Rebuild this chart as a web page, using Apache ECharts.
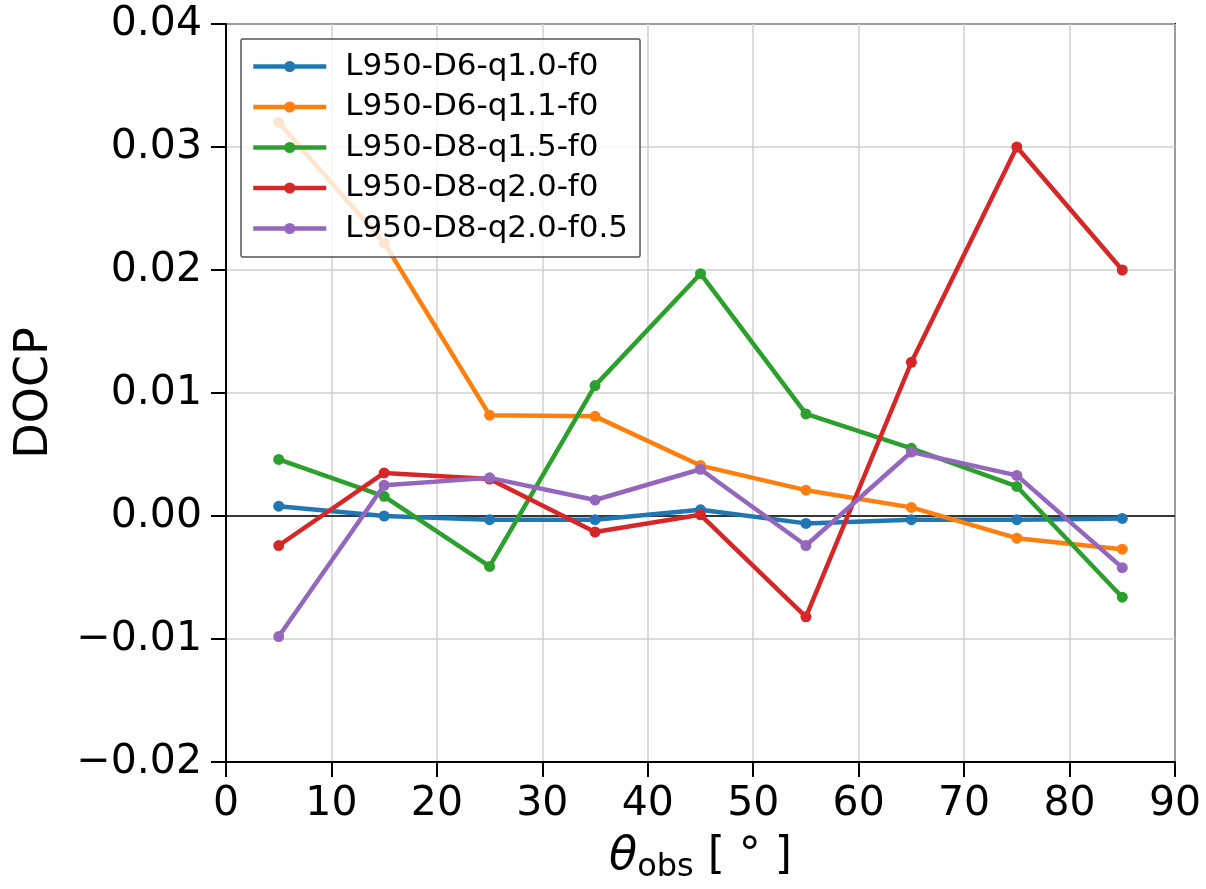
<!DOCTYPE html>
<html>
  <head>
    <meta charset="utf-8">
    <title>DOCP vs theta_obs</title>
    <script type="text/javascript" src="https://cdn.jsdelivr.net/npm/echarts@6/dist/echarts.min.js"></script>
    <style>
      html, body { margin: 0; padding: 0; background: #fff; }
      #chart { width: 1206px; height: 889px; }
    </style>
  </head>
  <body>
    <div id="chart"></div>
    <script type="text/javascript">
      // observer angles (deg)
      var theta = [5, 15, 25, 35, 45, 55, 65, 75, 85];

      var names = ['L950-D6-q1.0-f0', 'L950-D6-q1.1-f0', 'L950-D8-q1.5-f0', 'L950-D8-q2.0-f0', 'L950-D8-q2.0-f0.5'];
      var colors = ['#1f77b4', '#ff7f0e', '#2ca02c', '#d62728', '#9467bd'];

      var d6q10 = [0.0008, 0.0000, -0.0003, -0.0003, 0.0005, -0.0006, -0.0003, -0.0003, -0.0002];
      var d6q11 = [0.0320, 0.0222, 0.0082, 0.0081, 0.0041, 0.0021, 0.0007, -0.0018, -0.0027];
      var d8q15 = [0.0046, 0.0016, -0.0041, 0.0106, 0.0197, 0.0083, 0.0055, 0.0024, -0.0066];
      var d8q20 = [-0.0024, 0.0035, 0.0030, -0.0013, 0.0001, -0.0082, 0.0125, 0.0300, 0.0200];
      var d8q20f05 = [-0.0098, 0.0025, 0.0031, 0.0013, 0.0038, -0.0024, 0.0052, 0.0033, -0.0042];

      var allData = [d6q10, d6q11, d8q15, d8q20, d8q20f05];

      var font = 'DejaVu Sans';

      var series = allData.map(function (vals, i) {
        var s = {
          name: names[i],
          type: 'line',
          data: vals.map(function (v, j) { return [theta[j], v]; }),
          symbol: 'circle',
          symbolSize: 11,
          showAllSymbol: true,
          lineStyle: { width: 4.5, color: colors[i] },
          itemStyle: { color: colors[i] },
          emphasis: { disabled: true },
          z: 3 + i
        };
        if (i === 0) {
          // y = 0 reference line
          s.markLine = {
            silent: true,
            symbol: 'none',
            label: { show: false },
            lineStyle: { color: '#000', width: 1.5, type: 'solid' },
            data: [{ yAxis: 0 }],
            z: 2
          };
        }
        return s;
      });

      var chart = echarts.init(document.getElementById('chart'));
      chart.setOption({
        animation: false,
        backgroundColor: '#fff',
        color: colors,
        grid: {
          left: 226, right: 31, top: 24, bottom: 123,
          show: true, borderColor: '#000', borderWidth: 2,
          backgroundColor: 'transparent'
        },
        legend: {
          orient: 'vertical',
          left: 241, top: 39,
          padding: [12, 12, 13, 10],
          itemWidth: 73, itemHeight: 14,
          itemGap: 9.5,
          backgroundColor: 'rgba(255,255,255,0.8)',
          borderColor: '#555', borderWidth: 1.5, borderRadius: 2,
          lineStyle: { width: 4.5 },
          textStyle: { fontFamily: font, fontSize: 31, lineHeight: 31, color: '#000', padding: [0, 0, 0, 14] },
          data: names,
          z: 10
        },
        xAxis: {
          type: 'value',
          min: 0, max: 90, interval: 10,
          axisLine: { onZero: false, lineStyle: { color: '#000', width: 2 } },
          axisTick: { show: true, length: 15, lineStyle: { color: '#000', width: 2 } },
          axisLabel: { fontFamily: font, fontSize: 41, color: '#000', margin: 22 },
          splitLine: { show: true, lineStyle: { color: '#d0d0d0', width: 1.5 } },
          name: '{t|θ}{s|obs}{n| [ ° ]}',
          nameLocation: 'middle',
          nameGap: 68,
          nameTextStyle: {
            rich: {
              t: { fontFamily: font, fontSize: 46, fontStyle: 'italic', color: '#000' },
              s: { fontFamily: font, fontSize: 32, color: '#000', padding: [22, 0, 0, 0] },
              n: { fontFamily: font, fontSize: 44, color: '#000' }
            }
          }
        },
        yAxis: {
          type: 'value',
          min: -0.02, max: 0.04, interval: 0.01,
          axisLine: { onZero: false, lineStyle: { color: '#000', width: 2 } },
          axisTick: { show: true, length: 15, lineStyle: { color: '#000', width: 2 } },
          axisLabel: {
            fontFamily: font, fontSize: 41, color: '#000', margin: 24,
            formatter: function (v) { return v.toFixed(2).replace('-', '\u2212'); }
          },
          splitLine: { show: true, lineStyle: { color: '#d0d0d0', width: 1.5 } },
          name: 'DOCP',
          nameLocation: 'middle',
          nameGap: 168,
          nameTextStyle: { fontFamily: font, fontSize: 46, color: '#000' }
        },
        series: series
      });
    </script>
  </body>
</html>
